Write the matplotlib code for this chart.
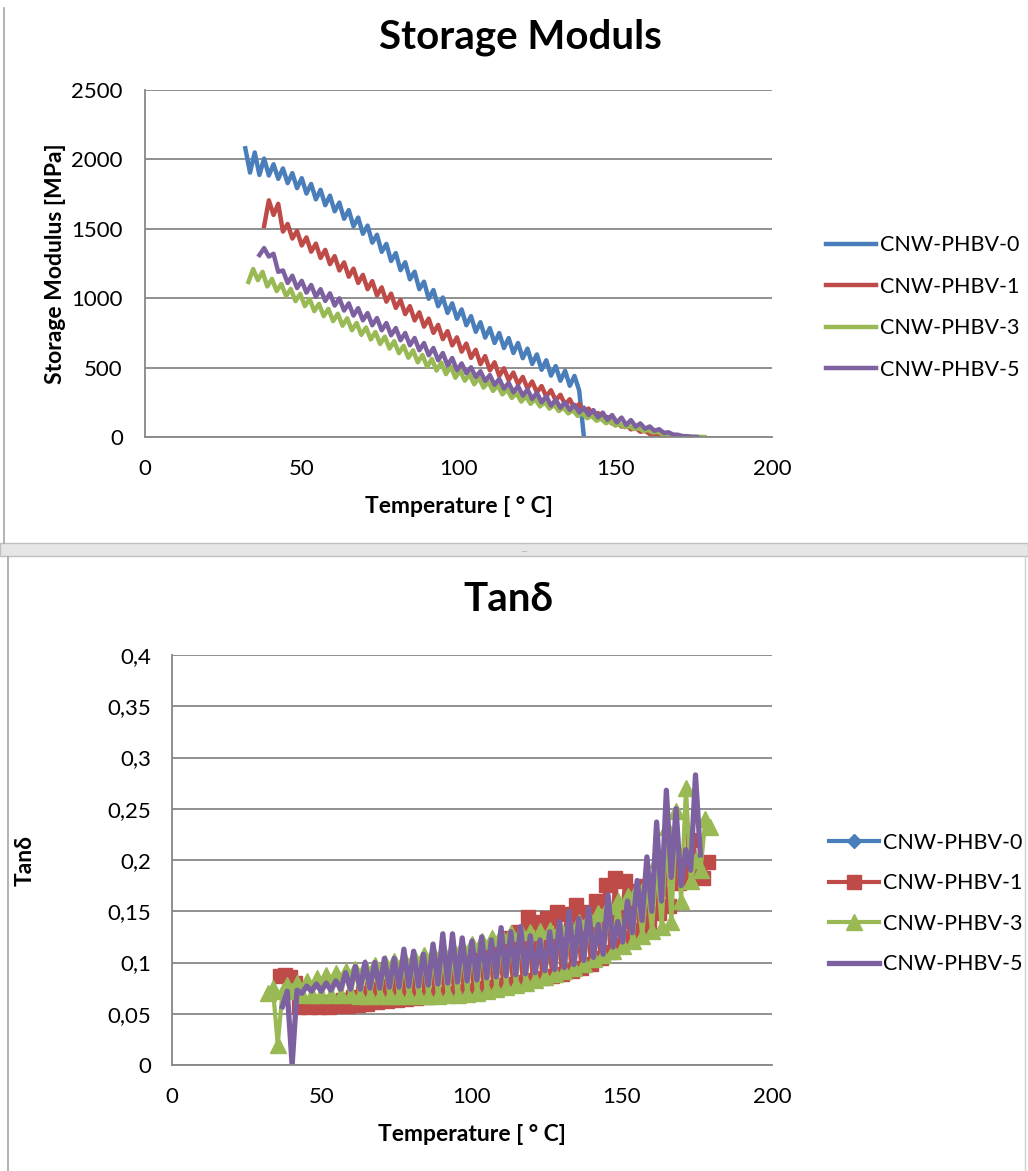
import numpy as np
import matplotlib
matplotlib.use("Agg")
import matplotlib.pyplot as plt
from matplotlib.lines import Line2D
from matplotlib.patches import Rectangle
from matplotlib.ticker import FuncFormatter

plt.rcParams['font.family'] = ['Lato', 'DejaVu Sans']

####### DATA #######
labels = ["CNW-PHBV-0", "CNW-PHBV-1", "CNW-PHBV-3", "CNW-PHBV-5"]
colors = ["#4A7EBB", "#BE4B48", "#98B954", "#7D60A0"]

### storage modulus [MPa], sampled every sm_step degrees from the start temperature
sm_step = 1.5
sm0_start = 32.0
sm0 = [2080, 1905, 2050, 1888, 2006, 1884, 1965, 1860, 1935, 1829,
       1901, 1793, 1865, 1754, 1823, 1712, 1781, 1670, 1739, 1626,
       1689, 1572, 1635, 1518, 1581, 1464, 1523, 1400, 1457, 1334,
       1391, 1268, 1325, 1202, 1259, 1136, 1191, 1065, 1119, 996,
       1059, 942, 1005, 894, 963, 852, 919, 805, 871, 758,
       827, 716, 785, 677, 749, 641, 713, 605, 677, 568,
       637, 526, 595, 484, 553, 442, 511, 405, 477, 369,
       440, 335, 0]
sm1_start = 38.0
sm1 = [1520, 1705, 1600, 1680, 1480, 1535, 1430, 1485, 1380, 1438,
       1335, 1393, 1290, 1348, 1245, 1303, 1200, 1258, 1155, 1213,
       1110, 1168, 1065, 1123, 1020, 1078, 975, 1033, 930, 988,
       885, 943, 840, 898, 795, 853, 750, 808, 705, 763,
       660, 718, 615, 673, 570, 628, 525, 583, 480, 538,
       440, 495, 410, 464, 380, 433, 350, 400, 322, 367,
       292, 337, 264, 304, 235, 272, 206, 238, 178, 205,
       150, 172, 122, 144, 97, 113, 75, 89, 55, 66,
       38, 44, 22, 24, 8, 6, 0]
sm3_start = 33.0
sm3 = [1117, 1210, 1130, 1190, 1085, 1139, 1051, 1103, 1015, 1067,
       979, 1031, 943, 995, 907, 959, 871, 923, 835, 888,
       802, 855, 769, 822, 736, 789, 703, 756, 670, 723,
       637, 690, 604, 657, 571, 624, 538, 591, 505, 562,
       479, 536, 453, 510, 427, 479, 406, 453, 380, 427,
       356, 398, 332, 372, 307, 344, 281, 318, 255, 293,
       239, 274, 220, 253, 204, 232, 187, 213, 170, 192,
       152, 172, 135, 152, 117, 132, 99, 113, 82, 93,
       70, 79, 57, 64, 44, 50, 33, 37, 22, 24,
       13, 14, 6, 7, 2, 2, 1, 0]
sm5_start = 36.5
sm5 = [1311, 1361, 1300, 1320, 1190, 1200, 1110, 1162, 1073, 1125,
       1040, 1095, 1010, 1065, 980, 1035, 947, 999, 911, 963,
       875, 928, 841, 893, 805, 857, 769, 821, 733, 785,
       697, 749, 661, 713, 625, 677, 589, 641, 553, 605,
       517, 569, 481, 530, 460, 502, 432, 474, 404, 446,
       376, 418, 348, 390, 322, 366, 298, 342, 274, 318,
       250, 294, 226, 268, 211, 250, 195, 232, 177, 212,
       159, 194, 141, 176, 123, 158, 105, 140, 87, 122,
       75, 98, 60, 76, 45, 56, 30, 34, 17, 16,
       6, 5, 1, 0]

### tan delta, sampled every td_step degrees
td_step = 1.62
td0_start = 0.0
td0 = []  # CNW-PHBV-0 shows no visible points in the tan delta chart
td1_start = 36.0
td1 = [0.087, 0.088, 0.086, 0.080, 0.057, 0.058, 0.057, 0.059, 0.057, 0.060,
       0.057, 0.061, 0.058, 0.063, 0.058, 0.066, 0.059, 0.070, 0.060, 0.074,
       0.061, 0.077, 0.062, 0.080, 0.063, 0.082, 0.064, 0.085, 0.065, 0.088,
       0.066, 0.090, 0.068, 0.094, 0.069, 0.097, 0.070, 0.100, 0.072, 0.104,
       0.073, 0.108, 0.075, 0.112, 0.076, 0.117, 0.078, 0.124, 0.079, 0.130,
       0.081, 0.144, 0.083, 0.140, 0.085, 0.143, 0.087, 0.149, 0.089, 0.147,
       0.092, 0.156, 0.095, 0.149, 0.099, 0.160, 0.104, 0.176, 0.110, 0.182,
       0.117, 0.180, 0.124, 0.170, 0.132, 0.175, 0.140, 0.180, 0.148, 0.185,
       0.155, 0.190, 0.178, 0.205, 0.182, 0.220, 0.183, 0.182, 0.198]
td3_start = 32.0
td3 = [0.070, 0.075, 0.020, 0.072, 0.078, 0.072, 0.080, 0.068, 0.082, 0.068,
       0.085, 0.068, 0.088, 0.068, 0.090, 0.068, 0.092, 0.068, 0.094, 0.067,
       0.096, 0.067, 0.098, 0.067, 0.100, 0.067, 0.101, 0.067, 0.103, 0.067,
       0.105, 0.067, 0.107, 0.067, 0.109, 0.067, 0.111, 0.068, 0.113, 0.068,
       0.115, 0.069, 0.118, 0.070, 0.121, 0.072, 0.124, 0.074, 0.127, 0.076,
       0.129, 0.078, 0.130, 0.080, 0.130, 0.083, 0.131, 0.086, 0.132, 0.089,
       0.134, 0.092, 0.136, 0.095, 0.140, 0.099, 0.143, 0.103, 0.148, 0.107,
       0.155, 0.111, 0.160, 0.116, 0.165, 0.121, 0.172, 0.126, 0.180, 0.131,
       0.200, 0.135, 0.232, 0.140, 0.248, 0.160, 0.270, 0.180, 0.200, 0.190,
       0.240, 0.232]
td5_start = 36.8
td5 = [0.057, 0.072, 0.000, 0.073, 0.070, 0.077, 0.072, 0.079, 0.072, 0.080,
       0.073, 0.082, 0.074, 0.090, 0.074, 0.096, 0.074, 0.100, 0.075, 0.100,
       0.075, 0.104, 0.076, 0.104, 0.076, 0.113, 0.077, 0.111, 0.077, 0.108,
       0.078, 0.118, 0.079, 0.128, 0.080, 0.128, 0.081, 0.124, 0.082, 0.121,
       0.083, 0.125, 0.085, 0.122, 0.086, 0.134, 0.087, 0.130, 0.088, 0.135,
       0.089, 0.126, 0.090, 0.122, 0.092, 0.130, 0.093, 0.140, 0.095, 0.150,
       0.098, 0.143, 0.102, 0.153, 0.105, 0.137, 0.108, 0.166, 0.115, 0.140,
       0.120, 0.160, 0.129, 0.180, 0.141, 0.203, 0.150, 0.237, 0.160, 0.268,
       0.183, 0.250, 0.175, 0.210, 0.190, 0.283, 0.205]

def temps(start, step, vals):
    return start + step * np.arange(len(vals))

####### FIGURE #######
W, H = 1028, 1171
fig = plt.figure(figsize=(W / 100, H / 100), dpi=100)
fig.patch.set_facecolor("white")

# window chrome of the two stacked chart objects
fig.add_artist(Line2D([4 / W, 4 / W], [1 - 8 / H, 1 - 543 / H], color="#a6a6a6", lw=1.2))
fig.add_artist(Rectangle((0, 1 - 556 / H), 1, 13 / H, facecolor="#e6e6e6",
                         edgecolor="#c0c0c0", lw=1.0))
fig.text(525 / W, 1 - 549.5 / H, "....", ha="center", va="center", fontsize=5, color="#999999")
fig.add_artist(Line2D([8 / W, 8 / W], [1 - 557 / H, 0], color="#a6a6a6", lw=1.2))
fig.add_artist(Line2D([1025 / W, 1025 / W], [1 - 557 / H, 0], color="#d0d0d0", lw=1.0))

grid_c = "#878787"
tick_fs = 16
lab_fs = 16.5

def style(ax):
    for s in ["top", "right"]:
        ax.spines[s].set_visible(False)
    for s in ["left", "bottom"]:
        ax.spines[s].set_color(grid_c)
        ax.spines[s].set_linewidth(1.3)
    ax.grid(axis="y", color=grid_c, lw=1.3)
    ax.set_axisbelow(True)
    ax.tick_params(length=0, labelsize=tick_fs, colors="black")

    # top chart
ax1 = fig.add_axes([145 / W, 1 - 437 / H, 627 / W, 347 / H])
ax1.plot(temps(sm0_start, sm_step, sm0), sm0, color=colors[0], lw=3.2, label=labels[0])
ax1.plot(temps(sm1_start, sm_step, sm1), sm1, color=colors[1], lw=3.2, label=labels[1])
ax1.plot(temps(sm3_start, sm_step, sm3), sm3, color=colors[2], lw=3.2, label=labels[2])
ax1.plot(temps(sm5_start, sm_step, sm5), sm5, color=colors[3], lw=3.2, label=labels[3])
ax1.set_xlim(0, 200)
ax1.set_ylim(0, 2500)
ax1.set_xticks(np.arange(0, 201, 50))
ax1.set_yticks(np.arange(0, 2501, 500))
style(ax1)
ax1.tick_params(axis="y", pad=16)
ax1.tick_params(axis="x", pad=16)
ax1.set_xlabel("Temperature [ ° C]", fontsize=lab_fs, fontweight="bold", labelpad=12)
ax1.set_ylabel("Storage Modulus [MPa]", fontsize=lab_fs, fontweight="bold", labelpad=4)
fig.text(520 / W, 1 - 37 / H, "Storage Moduls", ha="center", va="center",
         fontsize=29, fontweight="bold")
fig.legend(handles=ax1.get_lines(), loc="center left",
           bbox_to_anchor=(826 / W, 1 - 307.5 / H), frameon=False, fontsize=15.5,
           handlelength=2.3, handletextpad=0.2, labelspacing=1.0,
           borderpad=0, borderaxespad=0)

    # bottom chart
ax2 = fig.add_axes([172 / W, 1 - 1065 / H, 600 / W, 410 / H])
ax2.plot(temps(td0_start, td_step, td0), td0, color=colors[0], lw=3, marker="D",
         ms=7, label=labels[0])
ax2.plot(temps(td1_start, td_step, td1), td1, color=colors[1], lw=3, marker="s",
         ms=10, label=labels[1])
ax2.plot(temps(td3_start, td_step, td3), td3, color=colors[2], lw=3, marker="^",
         ms=11, label=labels[2])
ax2.plot(temps(td5_start, td_step, td5), td5, color=colors[3], lw=3.8, label=labels[3])
ax2.set_xlim(0, 200)
ax2.set_ylim(0, 0.4)
ax2.set_xticks(np.arange(0, 201, 50))
ax2.set_yticks(np.arange(0, 0.401, 0.05))
ax2.yaxis.set_major_formatter(FuncFormatter(
    lambda v, p: "0" if abs(v) < 1e-9 else ("%g" % round(v, 2)).replace(".", ",")))
style(ax2)
ax2.tick_params(axis="y", pad=15)
ax2.tick_params(axis="x", pad=16)
ax2.set_xlabel("Temperature [ ° C]", fontsize=lab_fs, fontweight="bold", labelpad=12)
ax2.set_ylabel("Tanδ", fontsize=lab_fs, fontweight="bold", labelpad=52)
fig.text(508 / W, 1 - 600 / H, "Tanδ", ha="center", va="center",
         fontsize=29, fontweight="bold")
fig.legend(handles=ax2.get_lines(), loc="center left",
           bbox_to_anchor=(829 / W, 1 - 903.5 / H), frameon=False, fontsize=15.5,
           handlelength=2.3, handletextpad=0.2, labelspacing=0.95,
           borderpad=0, borderaxespad=0)

plt.savefig("out.png", dpi=100)
